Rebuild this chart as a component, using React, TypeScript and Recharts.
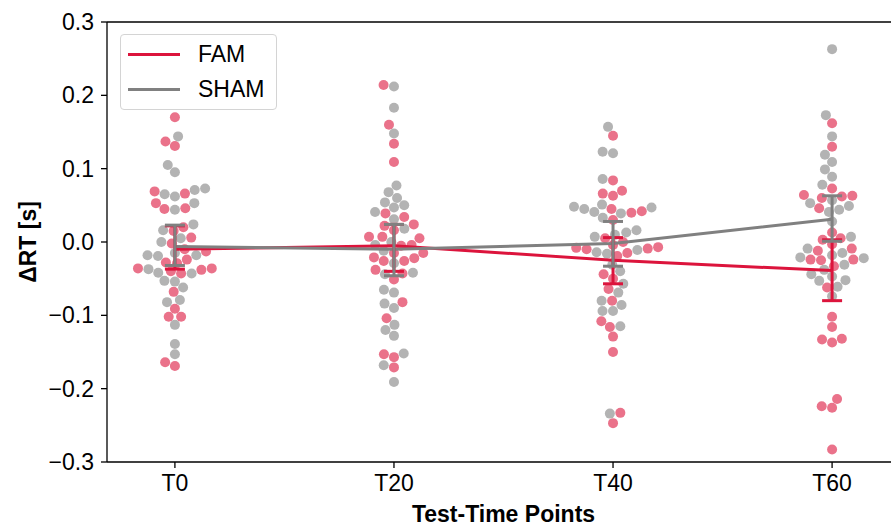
import React from 'react';
import { ScatterChart, Scatter, XAxis, YAxis, Legend, ReferenceLine } from 'recharts';

const categories = ['T0', 'T20', 'T40', 'T60'];

// ΔRT values per subject
const famT0 = [0.170, 0.137, 0.131, 0.069, 0.066, 0.053, 0.046, 0.045, 0.020, 0.015, 0.006, -0.002, -0.010, -0.013, -0.024, -0.028, -0.029, -0.036, -0.036, -0.038, -0.040, -0.043, -0.068, -0.091, -0.102, -0.102, -0.164, -0.169];
const shamT0 = [0.144, 0.105, 0.095, 0.073, 0.071, 0.065, 0.062, 0.053, 0.044, 0.024, 0.016, 0.005, 0.000, -0.015, -0.018, -0.018, -0.019, -0.037, -0.042, -0.043, -0.053, -0.054, -0.062, -0.079, -0.082, -0.113, -0.139, -0.153];
const famT20 = [0.214, 0.160, 0.134, 0.109, 0.039, 0.034, 0.024, 0.022, 0.016, 0.007, 0.007, 0.005, -0.004, -0.005, -0.015, -0.015, -0.021, -0.022, -0.026, -0.026, -0.038, -0.043, -0.051, -0.082, -0.104, -0.153, -0.157, -0.171];
const shamT20 = [0.212, 0.183, 0.148, 0.077, 0.068, 0.060, 0.054, 0.050, 0.047, 0.041, 0.031, 0.018, 0.000, -0.004, -0.012, -0.029, -0.042, -0.044, -0.065, -0.069, -0.084, -0.090, -0.113, -0.120, -0.128, -0.152, -0.168, -0.191];
const famT40 = [0.145, 0.084, 0.070, 0.066, 0.063, 0.045, 0.042, 0.040, 0.030, 0.005, 0.000, -0.004, -0.007, -0.008, -0.009, -0.010, -0.015, -0.019, -0.044, -0.050, -0.064, -0.080, -0.108, -0.116, -0.129, -0.150, -0.233, -0.247];
const shamT40 = [0.157, 0.123, 0.121, 0.086, 0.051, 0.048, 0.047, 0.045, 0.041, 0.039, 0.033, 0.016, 0.013, 0.010, 0.007, -0.011, -0.014, -0.016, -0.031, -0.040, -0.057, -0.069, -0.080, -0.086, -0.094, -0.094, -0.115, -0.234];
const famT60 = [0.162, 0.130, 0.073, 0.064, 0.063, 0.062, 0.060, 0.046, 0.013, 0.005, 0.003, -0.003, -0.009, -0.012, -0.024, -0.024, -0.025, -0.033, -0.062, -0.102, -0.116, -0.132, -0.133, -0.137, -0.214, -0.224, -0.226, -0.283];
const shamT60 = [0.263, 0.173, 0.144, 0.119, 0.109, 0.099, 0.089, 0.078, 0.057, 0.053, 0.049, 0.044, 0.041, 0.028, 0.007, -0.009, -0.015, -0.018, -0.021, -0.022, -0.031, -0.038, -0.044, -0.047, -0.052, -0.053, -0.061, -0.074];

// group means and 95% CI bounds
const famMean = [-0.010, -0.005, -0.025, -0.039];
const famLow = [-0.037, -0.040, -0.057, -0.080];
const famHigh = [0.022, 0.024, 0.006, 0.003];
const shamMean = [-0.006, -0.010, -0.002, 0.031];
const shamLow = [-0.032, -0.046, -0.033, 0.001];
const shamHigh = [0.023, 0.024, 0.028, 0.063];

const yTicks = [-0.3, -0.2, -0.1, 0, 0.1, 0.2, 0.3];

const FAM = '#DC143C';
const SHAM = '#808080';
const FAM_DOT = '#EA728A';
const SHAM_DOT = '#B3B3B3';

const WIDTH = 920;
const HEIGHT = 528;
const MARGIN = { top: 22, right: 20, bottom: 6, left: 7 };
const Y_AXIS_W = 100;
const X_AXIS_H = 60;
const X_DOMAIN: [number, number] = [-0.31, 3.31];
const PLOT_W = WIDTH - MARGIN.left - MARGIN.right - Y_AXIS_W;
const PLOT_H = HEIGHT - MARGIN.top - MARGIN.bottom - X_AXIS_H;
const PX_PER_UNIT = PLOT_H / 0.6;
const R = 5;
// error bar cap half width, 10px expressed in x units
const CAP = 10 / (PLOT_W / (X_DOMAIN[1] - X_DOMAIN[0]));

// seaborn-style beeswarm: returns horizontal pixel offsets for each value
function beeswarm(values: number[]): number[] {
  const order = values.map((_, i) => i).sort((a, b) => values[a] - values[b]);
  const placed: { x: number; y: number }[] = [];
  const out = new Array(values.length).fill(0);
  for (const idx of order) {
    const y = values[idx] * PX_PER_UNIT;
    const neighbors: { x: number; y: number }[] = [];
    for (let j = placed.length - 1; j >= 0; j--) {
      if (y - placed[j].y < 2 * R) neighbors.unshift(placed[j]);
      else break;
    }
    const cands: number[] = [0];
    let leftFirst = true;
    for (const n of neighbors) {
      const dy = y - n.y;
      const d = Math.sqrt(Math.max(4 * R * R - dy * dy, 0)) * 1.05;
      if (leftFirst) cands.push(n.x - d, n.x + d);
      else cands.push(n.x + d, n.x - d);
      leftFirst = !leftFirst;
    }
    const sorted = cands.map((x, k) => ({ x, k })).sort((a, b) => Math.abs(a.x) - Math.abs(b.x) || a.k - b.k);
    let chosen = 0;
    for (const c of sorted) {
      const ok = neighbors.every((n) => (n.x - c.x) ** 2 + (n.y - y) ** 2 >= 4 * R * R - 1e-6);
      if (ok) {
        chosen = c.x;
        break;
      }
    }
    placed.push({ x: chosen, y });
    out[idx] = chosen;
  }
  return out;
}

const famGroups = [famT0, famT20, famT40, famT60];
const shamGroups = [shamT0, shamT20, shamT40, shamT60];

const famPoints: { x: number; y: number; dx: number }[] = [];
const shamPoints: { x: number; y: number; dx: number }[] = [];
categories.forEach((_, i) => {
  const f = famGroups[i];
  const s = shamGroups[i];
  const dx = beeswarm([...f, ...s]);
  f.forEach((v, k) => famPoints.push({ x: i, y: v, dx: dx[k] }));
  s.forEach((v, k) => shamPoints.push({ x: i, y: v, dx: dx[f.length + k] }));
});

const famSummary = categories.map((_, i) => ({ x: i, y: famMean[i] }));
const shamSummary = categories.map((_, i) => ({ x: i, y: shamMean[i] }));

const legendItems = [
  { name: 'FAM', color: FAM },
  { name: 'SHAM', color: SHAM },
];

const fmt = (v: number) => (v < -1e-9 ? '\u2212' : '') + Math.abs(v).toFixed(1);

const dot = (fill: string) => (props: any) => (
  <circle cx={props.cx + props.payload.dx} cy={props.cy} r={R} fill={fill} />
);

const noShape = () => <g />;

// each CI drawn as three two-point scatter lines (stem + caps) so they sit above the dots
function errorBars(low: number[], high: number[], color: string, key: string) {
  const out: React.ReactElement[] = [];
  categories.forEach((_, i) => {
    const segs = [
      [{ x: i, y: low[i] }, { x: i, y: high[i] }],
      [{ x: i - CAP, y: low[i] }, { x: i + CAP, y: low[i] }],
      [{ x: i - CAP, y: high[i] }, { x: i + CAP, y: high[i] }],
    ];
    segs.forEach((seg, k) => {
      out.push(
        <Scatter
          key={`${key}-${i}-${k}`}
          data={seg}
          line={{ stroke: color, strokeWidth: 3 }}
          lineType="joint"
          shape={noShape}
          isAnimationActive={false}
        />
      );
    });
  });
  return out;
}

function LegendBox() {
  return (
    <div
      style={{
        width: 155,
        height: 74,
        border: '1px solid #d4d4d4',
        borderRadius: 4,
        background: 'rgba(255,255,255,0.85)',
        position: 'relative',
      }}
    >
      {legendItems.map((it, i) => (
        <div key={it.name} style={{ position: 'absolute', left: 7, top: 7 + i * 35, height: 24, display: 'flex', alignItems: 'center' }}>
          <div style={{ width: 52, height: 3, background: it.color }} />
          <span style={{ marginLeft: 18, fontSize: 23, color: '#000', lineHeight: '24px' }}>{it.name}</span>
        </div>
      ))}
    </div>
  );
}

export default function App() {
  return (
    <div
      style={{
        position: 'absolute',
        left: 0,
        top: 0,
        width: 891,
        height: 528,
        overflow: 'hidden',
        background: '#fff',
        fontFamily: '"Liberation Sans", Arial, sans-serif',
      }}
    >
      <ScatterChart width={WIDTH} height={HEIGHT} margin={MARGIN}>
        <XAxis
          type="number"
          dataKey="x"
          domain={X_DOMAIN}
          ticks={[0, 1, 2, 3]}
          tickFormatter={(i: number) => categories[i]}
          allowDataOverflow
          height={X_AXIS_H}
          tickSize={6}
          tickMargin={7}
          axisLine={{ stroke: '#000', strokeWidth: 1.3 }}
          tickLine={{ stroke: '#000', strokeWidth: 1.3 }}
          tick={{ fill: '#000', fontSize: 23 }}
          label={{ value: 'Test-Time Points', position: 'insideBottom', offset: 0, fill: '#000', fontSize: 23, fontWeight: 'bold' }}
        />
        <YAxis
          type="number"
          dataKey="y"
          domain={[-0.3, 0.3]}
          ticks={yTicks}
          tickFormatter={fmt}
          allowDataOverflow
          width={Y_AXIS_W}
          tickSize={6}
          tickMargin={7}
          axisLine={{ stroke: '#000', strokeWidth: 1.3 }}
          tickLine={{ stroke: '#000', strokeWidth: 1.3 }}
          tick={{ fill: '#000', fontSize: 23 }}
          label={{ value: 'ΔRT [s]', angle: -90, position: 'insideLeft', offset: 21, fill: '#000', fontSize: 23, fontWeight: 'bold', style: { textAnchor: 'middle' } }}
        />
        <ReferenceLine y={0.3} stroke="#000" strokeWidth={1.3} />
        <ReferenceLine x={3.31} stroke="#000" strokeWidth={1.3} />
        <Scatter data={famPoints} shape={dot(FAM_DOT)} isAnimationActive={false} />
        <Scatter data={shamPoints} shape={dot(SHAM_DOT)} isAnimationActive={false} />
        <Scatter data={famSummary} line={{ stroke: FAM, strokeWidth: 3 }} lineType="joint" shape={noShape} isAnimationActive={false} />
        <Scatter data={shamSummary} line={{ stroke: SHAM, strokeWidth: 3 }} lineType="joint" shape={noShape} isAnimationActive={false} />
        {errorBars(famLow, famHigh, FAM, 'fam')}
        {errorBars(shamLow, shamHigh, SHAM, 'sham')}
        <Legend
          layout="vertical"
          align="center"
          verticalAlign="middle"
          wrapperStyle={{ left: 120, top: 34, width: 157, height: 76 }}
          content={() => <LegendBox />}
        />
      </ScatterChart>
    </div>
  );
}
